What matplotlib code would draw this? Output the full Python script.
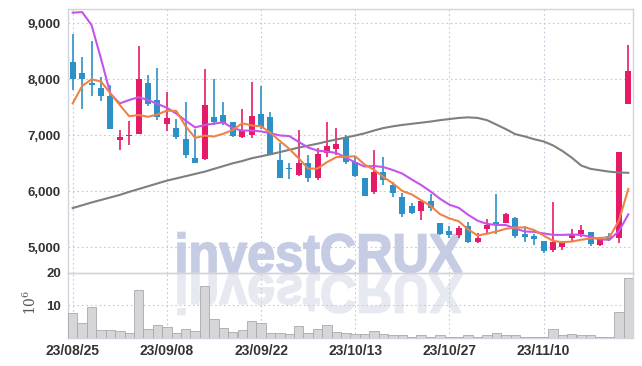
import numpy as np
import matplotlib
matplotlib.use("Agg")
import matplotlib.pyplot as plt
from matplotlib.textpath import TextPath
from matplotlib.patches import PathPatch
from matplotlib.font_manager import FontProperties
from matplotlib.transforms import Affine2D, IdentityTransform
from matplotlib.ticker import FuncFormatter

# daily candles, 23/08/25 .. 23/11/23 (60 trading days)
opens = [8300, 8120, 7940, 7850, 7700, 6910, 6990, 7030, 7940, 7630,
         7200, 7130, 6940, 6600, 6580, 7330, 7360, 7230, 6970, 7000,
         7380, 7320, 6560, 6410, 6290, 6500, 6230, 6680, 6750, 6950,
         6530, 6230, 5980, 6340, 6110, 5900, 5730, 5650, 5820, 5430,
         5290, 5220, 5380, 5090, 5320, 5450, 5440, 5520, 5230, 5200,
         5110, 4960, 5000, 5160, 5230, 5270, 5040, 5200, 5160, 7550]
highs = [8800, 8390, 8680, 8040, 7900, 7090, 7260, 8600, 8070, 8210,
         7770, 7290, 7590, 7110, 8180, 8000, 7590, 7240, 7470, 7960,
         7880, 7410, 6860, 6500, 7100, 6640, 6770, 7240, 7130, 7000,
         6620, 6240, 6740, 6610, 6170, 5970, 5790, 5830, 5950, 5440,
         5380, 5380, 5450, 5260, 5500, 5960, 5620, 5540, 5380, 5240,
         5110, 5800, 5120, 5320, 5390, 5280, 5190, 5260, 6710, 8610]
lows = [7810, 7470, 7710, 7620, 7110, 6740, 6830, 7020, 7520, 7280,
        7080, 6930, 6590, 6510, 6550, 7190, 7190, 6970, 6960, 6950,
        7120, 6640, 6240, 6220, 6280, 6170, 6210, 6620, 6650, 6490,
        6260, 5910, 5960, 6110, 5890, 5540, 5600, 5490, 5650, 5220,
        5160, 5160, 5080, 5080, 5250, 5230, 5430, 5170, 5100, 5040,
        4900, 4910, 4950, 5110, 5190, 5020, 5020, 5120, 5070, 7550]
closes = [8010, 8010, 7900, 7710, 7120, 6970, 7000, 8010, 7550, 7330,
          7310, 6970, 6640, 6510, 7540, 7230, 7220, 6980, 7100, 7350,
          7150, 6650, 6240, 6400, 6500, 6230, 6660, 6810, 6850, 6530,
          6280, 5920, 6340, 6200, 5970, 5600, 5610, 5820, 5700, 5230,
          5220, 5350, 5090, 5160, 5390, 5420, 5590, 5200, 5180, 5150,
          4940, 5100, 5080, 5240, 5310, 5060, 5140, 5150, 6710, 8140]
# volume in millions
volumes = [7.6, 4.6, 9.6, 2.5, 2.5, 2.1, 1.5, 14.7, 2.8, 3.9,
           3.3, 1.5, 2.7, 2.1, 15.9, 5.7, 3.0, 1.9, 2.5, 5.1,
           4.6, 1.5, 1.5, 1.2, 3.6, 1.6, 2.7, 3.9, 1.9, 1.6,
           1.3, 1.3, 2.1, 1.3, 1.0, 1.0, 0.3, 1.0, 0.3, 1.0,
           0.3, 0.3, 1.0, 0.3, 1.0, 1.6, 1.0, 1.0, 0.3, 0.3,
           0.3, 2.7, 1.0, 1.3, 1.0, 1.0, 0.3, 0.3, 8.1, 18.3]
ma5 = [7570, 7880, 8000, 7960, 7750, 7542, 7340, 7362, 7330, 7372,
       7440, 7434, 7160, 6952, 6994, 6978, 7028, 7096, 7214, 7176,
       7160, 7046, 6898, 6758, 6588, 6404, 6406, 6520, 6610, 6616,
       6626, 6478, 6384, 6254, 6142, 6006, 5944, 5840, 5740, 5592,
       5516, 5464, 5318, 5210, 5242, 5282, 5330, 5352, 5356, 5308,
       5212, 5114, 5090, 5102, 5134, 5158, 5166, 5180, 5474, 6040]
ma10 = [9190, 9200, 8970, 8370, 7740, 7570, 7630, 7680, 7630, 7561,
        7491, 7387, 7261, 7141, 7183, 7209, 7231, 7128, 7083, 7085,
        7069, 7037, 6997, 6986, 6882, 6782, 6726, 6709, 6684, 6602,
        6515, 6442, 6452, 6432, 6379, 6316, 6211, 6112, 5997, 5867,
        5761, 5704, 5579, 5475, 5417, 5399, 5397, 5335, 5283, 5275,
        5247, 5222, 5221, 5229, 5221, 5185, 5140, 5135, 5288, 5587]
ma_long = [5700, 5750, 5800, 5845, 5890, 5935, 5990, 6040, 6090, 6140,
           6190, 6230, 6270, 6310, 6350, 6400, 6450, 6500, 6540, 6590,
           6625, 6660, 6700, 6740, 6780, 6815, 6850, 6890, 6925, 6960,
           6995, 7035, 7085, 7130, 7160, 7185, 7205, 7225, 7245, 7270,
           7290, 7310, 7320, 7310, 7270, 7190, 7110, 7020, 6980, 6930,
           6890, 6820, 6720, 6600, 6460, 6400, 6375, 6350, 6335, 6330]
tick_pos = [0, 10, 20, 30, 40, 50]
tick_labels = ["23/08/25", "23/09/08", "23/09/22", "23/10/13", "23/10/27", "23/11/10"]

UP = "#e71a68"
DOWN = "#2d91c8"
GRID = "#c5c8dc"
FRAME = "#d2d3dc"
plt.rcParams["font.family"] = ["Liberation Sans", "DejaVu Sans"]
plt.rcParams["mathtext.fontset"] = "dejavuserif"

fig = plt.figure(figsize=(6.42, 3.66), dpi=100)
W, H = 642, 366
ax = fig.add_axes([68 / W, (H - 272.7) / H, 565 / W, (272.7 - 9.3) / H])
axv = fig.add_axes([68 / W, (H - 338) / H, 565 / W, (338 - 272.7) / H], sharex=ax)
for a in (ax, axv):
    a.set_facecolor("none")
    for s in a.spines.values():
        s.set_color(FRAME)
        s.set_linewidth(1.0)
    a.grid(True, color=GRID, linestyle=(0, (1.5, 2.5)), linewidth=0.8)
    a.set_axisbelow(True)
    a.tick_params(length=0, colors="#333333")

x = np.arange(len(closes))
o = np.array(opens)
c = np.array(closes)
colors = [UP if cc >= oo else DOWN for oo, cc in zip(o, c)]
ax.vlines(x, lows, highs, colors=colors, linewidth=1.2, zorder=3)
body = np.maximum(np.abs(c - o), 18)
ax.bar(x, body, bottom=np.minimum(o, c), width=0.64, color=colors, zorder=4)

ax.plot(x, ma_long, color="#7f7f7f", lw=1.5, zorder=5)
ax.plot(x, ma10, color="#c653ea", lw=1.5, zorder=5)
ax.plot(x, ma5, color="#ef8345", lw=1.5, zorder=5)

ax.set_xlim(-0.5, len(closes) - 0.5)
ax.set_ylim(4546, 9250)
ax.set_yticks([5000, 6000, 7000, 8000, 9000])
ax.yaxis.set_major_formatter(FuncFormatter(lambda v, p: f"{int(v):,}"))
ax.tick_params(axis="y", labelsize=9.5, pad=5)
ax.tick_params(axis="x", labelbottom=False)
for t in ax.get_yticklabels():
    t.set_fontweight("bold")

axv.bar(x, volumes, width=1.0, color="#d6d6d8", edgecolor="#a9a9ad", linewidth=0.6, zorder=3)
axv.set_ylim(0, 20)
axv.set_yticks([10, 20])
axv.set_xticks(tick_pos)
axv.set_xticklabels(tick_labels)
axv.tick_params(axis="y", labelsize=9.5, pad=5)
axv.tick_params(axis="x", labelsize=10, pad=4)
for t in axv.get_yticklabels() + axv.get_xticklabels():
    t.set_fontweight("bold")
fig.text(30 / W, (H - 302) / H, r"$10^6$", rotation=90, ha="center", va="center",
         fontsize=10, color="#555555")

# watermark with reflection
fp = FontProperties(family="Liberation Sans", weight="bold")
tp = TextPath((0, 0), "investCRUX", size=50, prop=fp)
ext = tp.get_extents()
sx = 284 / ext.width
sy = 39 / 35.8
x0 = 178 - ext.x0 * sx
main = Affine2D().scale(sx, sy).translate(x0, H - 272).transform_path(tp)
refl = Affine2D().scale(sx, -sy).translate(x0, H - 275).transform_path(tp)
fig.add_artist(PathPatch(main, transform=IdentityTransform(), facecolor="#c6cce3",
                         edgecolor="#c6cce3", linewidth=1.2, zorder=-1))
fig.add_artist(PathPatch(refl, transform=IdentityTransform(), facecolor="#e7e9f1",
                         edgecolor="#e7e9f1", linewidth=1.2, zorder=-1))

fig.savefig("out.png", dpi=100)
